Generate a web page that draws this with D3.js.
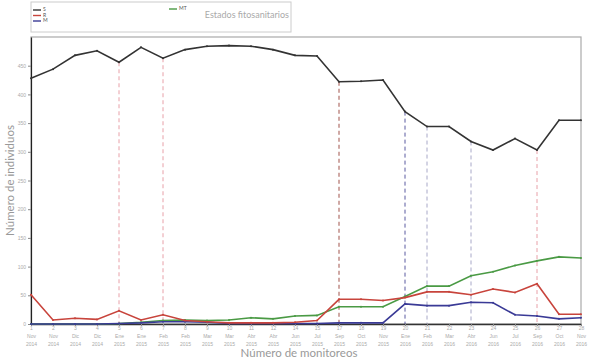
<!DOCTYPE html>
<html>
<head>
<meta charset="utf-8">
<script src="https://cdn.jsdelivr.net/npm/d3@7"></script>
<style>
  body { margin: 0; background: #fff; }
  svg { display: block; font-family: Lato, "Open Sans", sans-serif; }
</style>
</head>
<body>
<div id="chart"></div>
<script>
const width = 589,
  height = 361,
  margin = ({ top: 37, right: 8, bottom: 37, left: 31 });

// monitoring number + month + year for each tick
const monitoreos = ["1","2","3","4","5","6","7","8","9","10","11","12","14","15","17","18","19","20","21","22","23","24","25","26","27","28"];
const meses = ["Nov","Nov","Dic","Dic","Ene","Ene","Feb","Feb","Mar","Mar","Abr","Abr","Jun","Jul","Sep","Oct","Nov","Ene","Feb","Mar","Abr","Jun","Jul","Sep","Oct","Nov"];
const anios = ["2014","2014","2014","2014","2015","2015","2015","2015","2015","2015","2015","2015","2015","2015","2015","2015","2015","2016","2016","2016","2016","2016","2016","2016","2016","2016"];

const valoresS = [428,444,468,476,456,482,463,478,484,485,484,478,468,467,422,423,425,370,344,344,318,303,323,303,355,355];
const valoresR = [51,7,10,8,23,7,16,6,4,2,2,2,3,6,43,43,41,46,56,56,51,61,55,70,17,17];
const valoresM = [0,0,0,0,1,2,4,4,3,1,1,1,1,1,2,2,2,35,32,32,38,37,16,14,9,11];
const valoresMT = [0,0,0,0,1,3,6,7,6,7,11,9,14,15,30,30,30,48,66,66,84,91,102,110,117,115];

// dashed markers: monitoring number and colour
const marcas = ["5","7","17","20","21","23","26"];
const marcaColores = ["#e8a0a8","#e8a0a8","#a0524a","#5a5aa0","#a8a8c8","#a8a8c8","#e8a0a8"];

const yTicks = [0,50,100,150,200,250,300,350,400,450];

const series = [
  { name: "S", values: valoresS, color: "#333333" },
  { name: "R", values: valoresR, color: "#c8443c" },
  { name: "M", values: valoresM, color: "#3a3a96" },
  { name: "MT", values: valoresMT, color: "#4a9a44" }
];

const svg = d3.select("#chart")
  .append("svg")
  .attr("width", width)
  .attr("height", height);

const x = d3.scalePoint()
  .domain(monitoreos)
  .range([margin.left, 581]);

const y = d3.scaleLinear()
  .domain([0, 500])
  .range([height - margin.bottom, margin.top]);

// plot frame
svg.append("rect")
  .attr("x", margin.left)
  .attr("y", margin.top)
  .attr("width", 581 - margin.left)
  .attr("height", y(0) - margin.top)
  .attr("fill", "none")
  .attr("stroke", "#aaa")
  .attr("stroke-width", 1.2);

// dashed verticals from S line down to axis
marcas.forEach((m, i) => {
  let idx = monitoreos.indexOf(m);
  svg.append("line")
    .attr("x1", x(m)).attr("x2", x(m))
    .attr("y1", y(valoresS[idx])).attr("y2", y(0))
    .attr("stroke", marcaColores[i])
    .attr("stroke-width", 1)
    .attr("stroke-dasharray", "4,3");
});

// Y axis
const yAxis = svg.append("g")
  .attr("transform", `translate(${margin.left},0)`)
  .call(d3.axisLeft(y).tickValues(yTicks).tickSize(3).tickSizeOuter(0));
yAxis.select(".domain").attr("stroke", "#222").attr("stroke-width", 1.2);
yAxis.selectAll(".tick line").attr("stroke", "#888");
yAxis.selectAll(".tick text").attr("fill", "#aaa").attr("font-size", 5).attr("x", -5);

// X axis
const xAxis = svg.append("g")
  .attr("transform", `translate(0,${y(0)})`)
  .call(d3.axisBottom(x).tickSize(2).tickSizeOuter(0));
xAxis.select(".domain").attr("stroke", "#333").attr("stroke-width", 1.5);
xAxis.selectAll(".tick line").attr("stroke", "#888");
xAxis.selectAll(".tick text").remove();
xAxis.selectAll(".tick").each(function (d, i) {
  let t = d3.select(this).append("text")
    .attr("fill", "#aaa")
    .attr("font-size", 5)
    .attr("text-anchor", "middle");
  t.append("tspan").attr("x", 0).attr("y", 6).text(d);
  t.append("tspan").attr("x", 0).attr("y", 14).text(meses[i]);
  t.append("tspan").attr("x", 0).attr("y", 22).text(anios[i]);
});

const line = d3.line()
  .x((d, i) => x(monitoreos[i]))
  .y(d => y(d));

// draw green and blue under the others, S on top
for (let s of [series[3], series[2], series[1], series[0]]) {
  let g = svg.append("g");
  g.append("path")
    .datum(s.values)
    .attr("fill", "none")
    .attr("stroke", s.color)
    .attr("stroke-width", 1.6)
    .attr("d", line);
  g.selectAll("circle")
    .data(s.values)
    .join("circle")
    .attr("cx", (d, i) => x(monitoreos[i]))
    .attr("cy", d => y(d))
    .attr("r", 1)
    .attr("fill", s.color);
}

// axis titles
svg.append("text")
  .attr("transform", `translate(11,${(margin.top + y(0)) / 2}) rotate(-90)`)
  .attr("text-anchor", "middle")
  .attr("dominant-baseline", "middle")
  .attr("fill", "#999")
  .attr("font-size", 11.5)
  .text("Número de individuos");

svg.append("text")
  .attr("x", 299)
  .attr("y", 357)
  .attr("text-anchor", "middle")
  .attr("fill", "#999")
  .attr("font-size", 11.5)
  .text("Número de monitoreos");

// legend box
const legend = svg.append("g");
legend.append("rect")
  .attr("x", 31).attr("y", 2)
  .attr("width", 260).attr("height", 30)
  .attr("fill", "none")
  .attr("stroke", "#ccc");

const legendPos = [[33, 10], [33, 15.5], [33, 21], [169, 9]];
series.forEach((s, i) => {
  let [lx, ly] = legendPos[i];
  legend.append("line")
    .attr("x1", lx).attr("x2", lx + 8)
    .attr("y1", ly).attr("y2", ly)
    .attr("stroke", s.color)
    .attr("stroke-width", 1.4);
  legend.append("text")
    .attr("x", lx + 10).attr("y", ly)
    .attr("dominant-baseline", "middle")
    .attr("font-size", 5)
    .attr("fill", "#555")
    .text(s.name);
});

legend.append("text")
  .attr("x", 289).attr("y", 16)
  .attr("text-anchor", "end")
  .attr("dominant-baseline", "middle")
  .attr("font-size", 9)
  .attr("fill", "#aaa")
  .text("Estados fitosanitarios");
</script>
</body>
</html>
